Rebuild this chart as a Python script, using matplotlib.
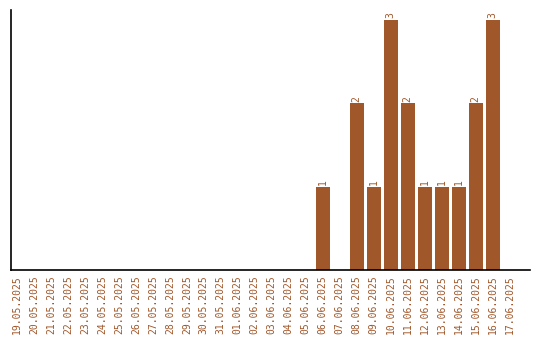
import matplotlib
matplotlib.use("Agg")
import matplotlib.pyplot as plt
import numpy as np

dates = ["19.05.2025", "20.05.2025", "21.05.2025", "22.05.2025", "23.05.2025",
         "24.05.2025", "25.05.2025", "26.05.2025", "27.05.2025", "28.05.2025",
         "29.05.2025", "30.05.2025", "31.05.2025", "01.06.2025", "02.06.2025",
         "03.06.2025", "04.06.2025", "05.06.2025", "06.06.2025", "07.06.2025",
         "08.06.2025", "09.06.2025", "10.06.2025", "11.06.2025", "12.06.2025",
         "13.06.2025", "14.06.2025", "15.06.2025", "16.06.2025", "17.06.2025"]
counts = [0, 0, 0, 0, 0, 0, 0, 0, 0, 0, 0, 0, 0, 0, 0,
          0, 0, 0, 1, 0, 2, 1, 3, 2, 1, 1, 1, 2, 3, 0]

color = "#a0572a"

fig = plt.figure(figsize=(5.4, 3.4), dpi=100)
ax = fig.add_axes([11 / 540, 70 / 340, 519 / 540, 260 / 340])

x = np.arange(len(dates))
ax.bar(x, counts, width=0.82, color=color)

# labels above the bars
for xi, c in zip(x, counts):
    if c > 0:
        ax.text(xi, c + 0.02, str(c), rotation=90, ha="center", va="bottom",
                color=color, fontsize=7, family="DejaVu Sans Mono")

ax.set_xlim(-0.35, 30.2)
ax.set_ylim(0, 3.12)
ax.set_xticks(x)
ax.set_xticklabels(dates, rotation=90, color=color, fontsize=7,
                   family="DejaVu Sans Mono")
ax.tick_params(axis="x", length=0, pad=4)
ax.set_yticks([])
ax.spines["top"].set_visible(False)
ax.spines["right"].set_visible(False)
ax.spines["left"].set_linewidth(1.2)
ax.spines["bottom"].set_linewidth(1.2)

fig.savefig("out.png", dpi=100)
